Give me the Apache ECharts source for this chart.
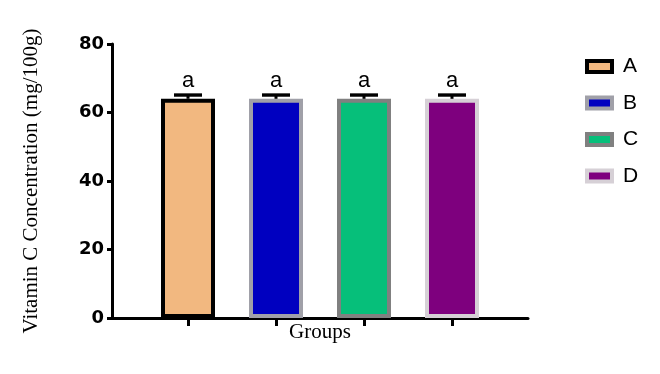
<!DOCTYPE html>
<html><head><meta charset="utf-8">
<script src="https://cdn.jsdelivr.net/npm/echarts@6/dist/echarts.min.js"></script>
<style>html,body{margin:0;padding:0;background:#fff}#c{width:660px;height:374px}</style>
</head><body><div id="c"></div>
<script>
const groups = ['A', 'B', 'C', 'D'];
const means = [64.0, 64.0, 64.0, 64.0];
const sds = [1.1, 1.1, 1.1, 1.1];
const letters = ['a', 'a', 'a', 'a'];
const yTicks = [0, 20, 40, 60, 80];
const fills = ['#F2B880', '#0000C0', '#06BF7A', '#7E007E'];
const borders = ['#000000', '#A0A0A8', '#808080', '#D6D0D6'];

const chart = echarts.init(document.getElementById('c'));
const barSeries = groups.map((g, i) => ({
  name: g, type: 'bar', xAxisIndex: 1, yAxisIndex: 1, stack: 'all',
  barWidth: 54,
  data: groups.map((_, j) => j === i ? means[i] : null),
  itemStyle: { color: fills[i], borderColor: borders[i], borderWidth: 4 },
  emphasis: { disabled: true }
}));
const errSeries = {
  type: 'custom', xAxisIndex: 1, yAxisIndex: 1, z: 10,
  data: groups.map((g, i) => [i, means[i], sds[i]]),
  renderItem: (params, api) => {
    const x = api.value(0), m = api.value(1), s = api.value(2);
    const p0 = api.coord([x, m]);
    const p1 = api.coord([x, m + s]);
    const hw = 14;
    return { type: 'group', children: [
      { type: 'line', shape: { x1: p0[0], y1: p0[1], x2: p1[0], y2: p1[1] }, style: { stroke: '#000', lineWidth: 3 } },
      { type: 'line', shape: { x1: p1[0] - hw, y1: p1[1], x2: p1[0] + hw, y2: p1[1] }, style: { stroke: '#000', lineWidth: 3.4 } },
      { type: 'text', x: p1[0], y: p1[1] - 3, style: { text: letters[params.dataIndex], fill: '#000', font: '22px "Liberation Sans", Arial', align: 'center', verticalAlign: 'bottom' } }
    ] };
  }
};

chart.setOption({
  animation: false,
  grid: [
    { left: 112, right: 132, top: 44, bottom: 56 },
    { left: 144, width: 352, top: 44, bottom: 56 }
  ],
  legend: {
    orient: 'vertical', left: 580, top: 51, itemWidth: 25, itemHeight: 11, itemGap: 15.5,
    data: groups.map((g, i) => ({ name: g, icon: 'rect', itemStyle: { color: fills[i], borderColor: borders[i], borderWidth: 4 } })),
    textStyle: { fontSize: 21, color: '#000', fontFamily: '"Liberation Sans", Arial', padding: [0, 0, 0, 6] },
    selectedMode: false
  },
  xAxis: [
    { type: 'value', gridIndex: 0, min: 0, max: 1, splitLine: { show: false }, axisTick: { show: false }, axisLabel: { show: false },
      axisLine: { lineStyle: { color: '#000', width: 3 } },
      name: 'Groups', nameLocation: 'middle', nameGap: 4,
      nameTextStyle: { fontFamily: '"Liberation Serif", "Times New Roman", serif', fontSize: 21, color: '#000', verticalAlign: 'top' } },
    { type: 'category', gridIndex: 1, data: groups, axisLine: { show: false }, axisLabel: { show: false },
      axisTick: { show: true, alignWithLabel: true, length: 8, lineStyle: { color: '#000', width: 3 } } }
  ],
  yAxis: [
    { type: 'value', gridIndex: 0, min: yTicks[0], max: yTicks[yTicks.length - 1], interval: 20,
      splitLine: { show: false },
      axisLine: { show: true, lineStyle: { color: '#000', width: 3 } },
      axisTick: { show: true, length: 5, lineStyle: { color: '#000', width: 3 } },
      axisLabel: { fontSize: 18, fontWeight: 'bold', color: '#000', fontFamily: '"DejaVu Sans", sans-serif', margin: 8 },
      name: 'Vitamin C Concentration (mg/100g)', nameLocation: 'middle', nameGap: 70,
      nameTextStyle: { fontFamily: '"Liberation Serif", "Times New Roman", serif', fontSize: 21, color: '#000' } },
    { type: 'value', gridIndex: 1, min: 0, max: 80, show: false }
  ],
  series: [...barSeries, errSeries]
});
</script></body></html>
